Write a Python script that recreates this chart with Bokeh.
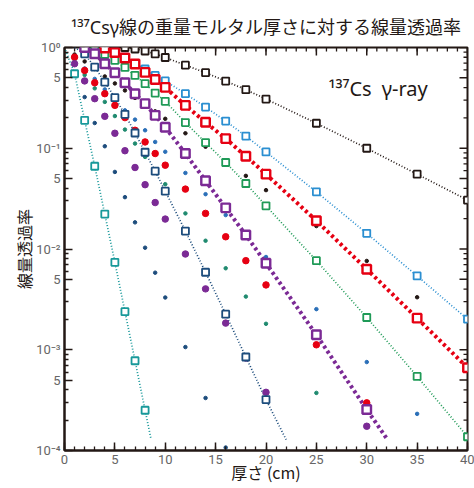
import math
from bokeh.plotting import figure
from bokeh.models import Range1d, FixedTicker, Title
from bokeh.embed import file_html
from bokeh.resources import INLINE

# ---------------- data (thickness in cm, transmission ratio) ----------------
# open squares + dotted fitted lines
black_x = [6, 7, 8, 9, 10, 12, 14, 16, 18, 20, 25, 30, 35, 40]
black_T = [1.0, 0.966, 0.923, 0.864, 0.796, 0.668, 0.562, 0.464, 0.381, 0.308, 0.177, 0.100, 0.0553, 0.0306]
black_line_x = [5, 6, 7, 8, 9, 10, 12, 14, 16, 18, 20, 25, 30, 35, 40]
black_line_T = [1.0, 1.0, 0.966, 0.923, 0.864, 0.796, 0.668, 0.562, 0.464, 0.381, 0.308, 0.177, 0.100, 0.0553, 0.0306]

blue_x = [4, 5, 6, 7, 8, 9, 10, 12, 14, 16, 18, 20, 25, 30, 35, 40]
blue_T = [0.989, 0.899, 0.802, 0.694, 0.612, 0.528, 0.466, 0.348, 0.256, 0.186, 0.132, 0.0919, 0.0369, 0.0143, 0.00540, 0.00201]
blue_line_x = [3.5] + blue_x
blue_line_T = [1.0] + blue_T

red_x = [4, 5, 6, 7, 8, 9, 10, 12, 14, 16, 18, 20, 25, 30, 35, 40]
red_T = [0.989, 0.892, 0.787, 0.686, 0.566, 0.482, 0.402, 0.2665, 0.1809, 0.1247, 0.0833, 0.0553, 0.01906, 0.00630, 0.00206, 0.000663]
red_line_x = [3.5] + red_x
red_line_T = [1.0] + red_T

green_x = [3, 4, 5, 6, 7, 8, 9, 10, 12, 14, 16, 18, 20, 25, 30, 35, 40]
green_T = [0.977, 0.852, 0.744, 0.634, 0.528, 0.437, 0.353, 0.292, 0.1797, 0.1138, 0.0722, 0.0447, 0.0268, 0.00766, 0.00209, 0.000544, 0.000137]
green_line_x = [2.5] + green_x
green_line_T = [1.0] + green_T

purple_x = [2, 3, 4, 5, 6, 7, 8, 9, 10, 12, 14, 16, 18, 20, 25, 30]
purple_T = [1.0, 0.866, 0.690, 0.562, 0.447, 0.348, 0.277, 0.212, 0.1614, 0.0886, 0.0475, 0.0256, 0.01376, 0.00722, 0.001408, 0.000255]
purple_line_x = purple_x + [32]
purple_line_T = purple_T + [0.000131]

navy_x = [2, 3, 4, 5, 6, 7, 8, 9, 10, 12, 14, 16, 18, 20]
navy_T = [0.866, 0.638, 0.453, 0.3177, 0.2171, 0.1417, 0.0913, 0.0592, 0.0375, 0.01507, 0.00588, 0.002257, 0.000847, 0.000320]
navy_line_x = [1] + navy_x + [22]
navy_line_T = [1.0] + navy_T + [0.000128]

teal_x = [1, 2, 3, 4, 5, 6, 7, 8]
teal_T = [0.549, 0.1893, 0.0663, 0.0222, 0.00738, 0.00239, 0.000778, 0.000251]
teal_line_x = [0] + teal_x + [8.6]
teal_line_T = [1.0] + teal_T + [0.000128]

# filled circles
redf_x = [1, 2, 3, 4, 5, 6, 7, 8, 9, 10, 12, 14, 16, 18, 20, 25, 30]
redf_T = [0.802, 0.592, 0.447, 0.348, 0.2665, 0.2014, 0.1508, 0.1155, 0.0886, 0.0679, 0.0393, 0.02257, 0.01323, 0.00766, 0.00440, 0.00112, 0.000297]
purf_x = [1, 2, 3, 4, 5, 6, 7, 8, 9, 10, 12, 14, 16, 18, 20, 30]
purf_T = [0.690, 0.466, 0.3105, 0.2074, 0.1408, 0.0945, 0.0644, 0.0435, 0.0289, 0.01982, 0.00892, 0.00402, 0.001838, 0.000827, 0.000378, 0.000174]

# small dots
blks_x = [1, 2, 3, 4, 5, 6, 7, 8, 9, 10, 12, 14, 16, 18, 20, 25, 30, 35]
blks_T = [0.852, 0.727, 0.612, 0.516, 0.440, 0.375, 0.316, 0.270, 0.2325, 0.196, 0.1408, 0.1035, 0.0744, 0.0532, 0.0384, 0.01689, 0.00761, 0.00332]
blus_x = [1, 2, 3, 4, 5, 6, 7, 8, 9, 10, 12, 14, 16, 18, 20, 25, 30, 35]
blus_T = [0.787, 0.620, 0.488, 0.384, 0.302, 0.2378, 0.1924, 0.1508, 0.1155, 0.0923, 0.0569, 0.0350, 0.02171, 0.01345, 0.00833, 0.00253, 0.000755, 0.000231]
grns_x = [1, 2, 3, 4, 5, 6, 7, 8, 9, 10, 12, 14, 16, 18, 20, 25]
grns_T = [0.727, 0.534, 0.393, 0.2886, 0.2088, 0.1532, 0.1113, 0.0820, 0.0599, 0.0440, 0.02257, 0.01208, 0.00644, 0.00337, 0.00181, 0.000373]
navs_x = [1, 2, 3, 4, 5, 6, 7, 8, 9, 10, 12, 14, 16]
navs_T = [0.566, 0.322, 0.178, 0.1047, 0.0582, 0.0327, 0.01838, 0.01030, 0.00582, 0.00330, 0.001063, 0.000332, 0.000107]

# ticks
x_major = [0, 5, 10, 15, 20, 25, 30, 35, 40]
x_minor = list(range(0, 41))
y_major = [1.0, 0.5, 0.1, 0.05, 0.01, 0.005, 0.001, 0.0005, 0.0001]
y_labels = ["10⁰", "5", "10⁻¹", "5", "10⁻²", "5", "10⁻³", "5", "10⁻⁴"]
y_minor = [m * d for d in (1e-4, 1e-3, 1e-2, 1e-1) for m in (2, 3, 4, 6, 7, 8, 9)]

title_text = "¹³⁷Csγ線の重量モルタル厚さに対する線量透過率"
inset_text = "¹³⁷Cs\u2002γ-ray"
xlabel_text = "厚さ (cm)"
ylabel_text = "線量透過率"

# ---------------- colours ----------------
C_BLACK = "#231815"
C_BLUE = "#2b8fd1"
C_RED = "#e60012"
C_GREEN = "#1f9a57"
C_PURPLE = "#7b2a95"
C_NAVY = "#1c4c7c"
C_TEAL = "#18999a"
C_GRNS = "#1f8a6f"
C_BLUS = "#2a6fb8"
JP = "Noto Sans CJK JP"
MIX = "Noto Sans, Noto Sans CJK JP"

p = figure(width=474, height=488, x_range=Range1d(0, 40), y_range=Range1d(1e-4, 1),
           y_axis_type="log", output_backend="svg", toolbar_location=None,
           min_border_left=64, min_border_right=7, min_border_top=47, min_border_bottom=38)
p.xgrid.visible = False
p.ygrid.visible = False
p.outline_line_color = C_BLACK
p.outline_line_width = 2
p.background_fill_color = "white"
p.border_fill_color = "white"

p.add_layout(Title(text=title_text, align="center", text_font=MIX, text_font_size="18px",
                   text_font_style="normal", text_color=C_BLACK, standoff=18), "above")

xt = FixedTicker(ticks=x_major, minor_ticks=x_minor)
yt = FixedTicker(ticks=y_major, minor_ticks=y_minor)
overrides = {}
for v, s in zip(y_major, y_labels):
    overrides[v] = s
    overrides[str(v) if v != 1.0 else "1"] = s


def style(ax):
    ax.axis_line_color = C_BLACK
    ax.axis_line_width = 2
    ax.major_tick_line_color = C_BLACK
    ax.minor_tick_line_color = C_BLACK
    ax.major_tick_line_width = 1.5
    ax.minor_tick_line_width = 1.3
    ax.major_tick_in = 8
    ax.major_tick_out = 0
    ax.minor_tick_in = 4
    ax.minor_tick_out = 0
    ax.major_label_text_font = "Roboto"
    ax.major_label_text_font_size = "13px"
    ax.major_label_text_color = "#666666"
    ax.axis_label_text_font = JP
    ax.axis_label_text_font_size = "16px"
    ax.axis_label_text_font_style = "normal"
    ax.axis_label_text_color = C_BLACK


xa = p.xaxis[0]
xa.ticker = xt
style(xa)
xa.major_label_standoff = 4
xa.axis_label = xlabel_text
xa.axis_label_standoff = -7

ya = p.yaxis[0]
ya.ticker = yt
style(ya)
ya.major_label_standoff = 4
ya.major_label_overrides = overrides
ya.axis_label = ylabel_text
ya.axis_label_standoff = -3

# inward ticks on the top and right edges of the box
tick = dict(line_color=C_BLACK, length_units="screen")
p.ray(x=x_minor, y=1.0, length=4, angle=-math.pi / 2, line_width=1.3, **tick)
p.ray(x=x_major, y=1.0, length=8, angle=-math.pi / 2, line_width=1.5, **tick)
p.ray(x=40, y=y_minor, length=4, angle=math.pi, line_width=1.3, **tick)
p.ray(x=40, y=y_major, length=8, angle=math.pi, line_width=1.5, **tick)

# ---------------- lines ----------------
thin = dict(line_width=1.7, line_dash="1 2")
p.line(black_line_x, black_line_T, line_color=C_BLACK, **thin)
p.line(blue_line_x, blue_line_T, line_color=C_BLUE, **thin)
p.line(green_line_x, green_line_T, line_color=C_GREEN, **thin)
p.line(navy_line_x, navy_line_T, line_color=C_NAVY, **thin)
p.line(teal_line_x, teal_line_T, line_color=C_TEAL, **thin)
p.line(red_line_x, red_line_T, line_color=C_RED, line_width=4, line_dash="3 3")
p.line(purple_line_x, purple_line_T, line_color=C_PURPLE, line_width=4, line_dash="3 3")

# ---------------- small dots ----------------
p.scatter(blks_x, blks_T, marker="circle", size=3.5, color=C_BLACK)
p.scatter(blus_x, blus_T, marker="circle", size=3.5, color=C_BLUS)
p.scatter(grns_x, grns_T, marker="circle", size=3.5, color=C_GRNS)
p.scatter(navs_x, navs_T, marker="circle", size=3.5, color=C_NAVY)

# ---------------- filled circles ----------------
p.scatter(redf_x, redf_T, marker="circle", size=6.5, color=C_RED)
p.scatter(purf_x, purf_T, marker="circle", size=6.5, color=C_PURPLE)

# ---------------- open squares ----------------
sq = dict(marker="square", size=7, fill_color="white", line_width=1.8)
p.scatter(black_x, black_T, line_color=C_BLACK, **sq)
p.scatter(blue_x, blue_T, line_color=C_BLUE, **sq)
p.scatter(green_x, green_T, line_color=C_GREEN, **sq)
p.scatter(navy_x, navy_T, line_color=C_NAVY, **sq)
p.scatter(teal_x, teal_T, line_color=C_TEAL, **sq)
sqb = dict(marker="square", size=8.5, fill_color="white", line_width=2.4)
p.scatter(red_x, red_T, line_color=C_RED, **sqb)
p.scatter(purple_x, purple_T, line_color=C_PURPLE, **sqb)

# ---------------- inset label ----------------
p.text(x=[26.2], y=[0.39], text=[inset_text], text_align="left", text_baseline="middle",
       text_font={"value": MIX}, text_font_size="20px", text_color=C_BLACK)

open("out.html", "w").write(file_html(p, INLINE))
